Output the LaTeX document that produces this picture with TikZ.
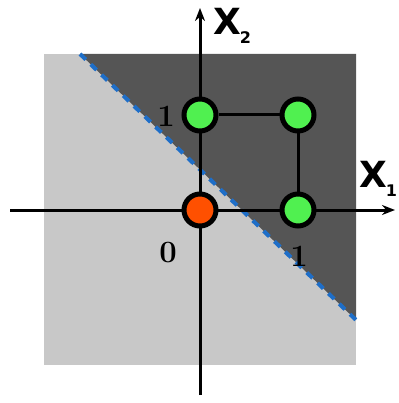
\documentclass[tikz,border=0pt]{standalone}
\usepackage{fontspec}
\newfontfamily\axfont{DejaVu Sans}
\usetikzlibrary{arrows.meta}
\definecolor{lightg}{RGB}{200,200,200}
\definecolor{darkg}{RGB}{85,85,85}
\definecolor{ptgreen}{RGB}{80,240,80}
\definecolor{ptred}{RGB}{255,80,0}
\definecolor{sepblue}{RGB}{30,110,200}
\newcommand{\axsub}[1]{\kern-1pt\raisebox{-9pt}{\fontsize{16}{16}\selectfont #1}}
\begin{document}
\begin{tikzpicture}[x=1pt,y=-1pt,
  pt/.style={circle,draw=black,line width=5pt,minimum size=32pt,inner sep=0pt},
  axis/.style={line width=3pt,-{Stealth[length=13pt,width=10pt]}},
  edge/.style={line width=3pt},
  numlab/.style={font=\fontsize{31}{31}\selectfont\bfseries,inner sep=0pt},
  axlab/.style={font=\axfont\bfseries\fontsize{36}{36}\selectfont,inner sep=0pt,anchor=base west}]
\useasboundingbox (0,0) rectangle (398,403);
\fill[lightg] (44,54) rectangle (356,365);
\fill[darkg] (80,54) -- (356,54) -- (356,320) -- cycle;
\coordinate (d1) at (80,54);
\coordinate (d2) at (356,320);
\draw[sepblue,line width=4pt,dash pattern=on 8pt off 7pt] (d1) -- (d2);
\coordinate (xs) at (10,210);
\coordinate (xe) at (395,210);
\coordinate (ys) at (200,395);
\coordinate (ye) at (200,8);
\draw[axis] (xs) -- (xe);
\draw[axis] (ys) -- (ye);
\node[pt,fill=ptred] (p00) at (200,210) {};
\node[pt,fill=ptgreen] (p01) at (200,115) {};
\node[pt,fill=ptgreen] (p11) at (298,115) {};
\node[pt,fill=ptgreen] (p10) at (298,210) {};
\draw[edge] (p01) -- (p11);
\draw[edge] (p11) -- (p10);
\node[numlab] (l1) at (166,116) {1};
\node[numlab] (l0) at (168,253) {0};
\node[numlab] (l1b) at (299,256) {1};
\node[axlab] (x2) at (213,35) {X\axsub{2}};
\node[axlab] (x1) at (359,187) {X\axsub{1}};
\end{tikzpicture}
\end{document}
